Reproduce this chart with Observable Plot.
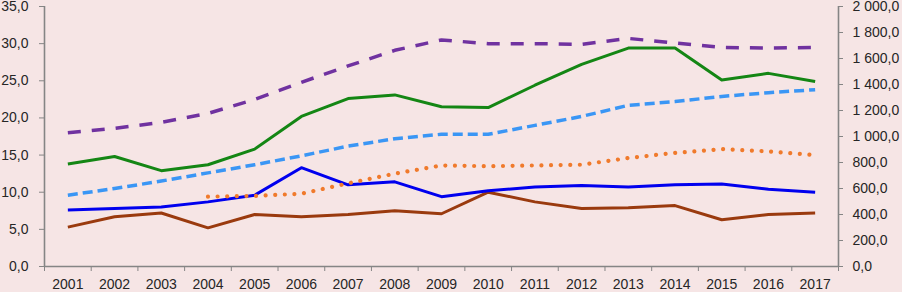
<!DOCTYPE html>
<html>
<head>
<meta charset="utf-8">
<script src="https://cdn.jsdelivr.net/npm/d3@7"></script>
<script src="https://cdn.jsdelivr.net/npm/@observablehq/plot@0.6"></script>
<style>
  html, body { margin: 0; padding: 0; background: #f6e5e5; }
  #chart svg { display: block; }
</style>
</head>
<body>
<div id="chart"></div>
<script>
const years = [2001,2002,2003,2004,2005,2006,2007,2008,2009,2010,2011,2012,2013,2014,2015,2016,2017];
const greenSeries     = [13.8,14.8,12.9,13.7,15.8,20.2,22.6,23.1,21.5,21.4,24.4,27.2,29.4,29.4,25.1,26.0,24.9];
const blueSeries      = [7.6,7.8,8.0,8.7,9.6,13.3,11.0,11.4,9.4,10.2,10.7,10.9,10.7,11.0,11.1,10.4,10.0];
const brownSeries     = [5.3,6.7,7.2,5.2,7.0,6.7,7.0,7.5,7.1,10.0,8.7,7.8,7.9,8.2,6.3,7.0,7.2];
const purpleSeries    = [18.0,18.6,19.4,20.6,22.5,24.8,27.0,29.1,30.5,30.0,30.0,29.9,30.7,30.1,29.5,29.4,29.5];
const lightBlueSeries = [9.6,10.5,11.5,12.6,13.7,14.9,16.2,17.2,17.8,17.8,19.0,20.2,21.7,22.2,22.9,23.4,23.8];
const orangeSeries    = [null,null,null,9.4,9.5,9.8,11.2,12.5,13.6,13.5,13.6,13.7,14.6,15.3,15.8,15.5,15.0];

const leftTicks  = [0,5,10,15,20,25,30,35];
const rightTicks = [0,200,400,600,800,1000,1200,1400,1600,1800,2000];
const leftMax = 35, rightMax = 2000;

const series = [
  {values: brownSeries,     stroke: "#9a3a0e", width: 3,   dash: null},
  {values: blueSeries,      stroke: "#0000ee", width: 3,   dash: null},
  {values: orangeSeries,    stroke: "#f07a2c", width: 4.2, dash: "0.01,9.6", cap: "round"},
  {values: lightBlueSeries, stroke: "#3a96f5", width: 3.5, dash: "10,5"},
  {values: greenSeries,     stroke: "#148614", width: 3,   dash: null},
  {values: purpleSeries,    stroke: "#7032a0", width: 3.5, dash: "13,11"}
];

const loc = d3.formatLocale({decimal: ",", thousands: "\u00a0", grouping: [3]});
const fmt = loc.format(",.1f");

const boundaries = years.map(y => y - 0.5).concat([years[years.length - 1] + 0.5]);
const x0 = boundaries[0], x1 = boundaries[boundaries.length - 1];

const lineMarks = series.map(s => Plot.line(
  years.map((yr, i) => ({year: yr, value: s.values[i]})).filter(d => d.value != null),
  {x: "year", y: "value", stroke: s.stroke, strokeWidth: s.width,
   strokeDasharray: s.dash || undefined, strokeLinecap: s.cap || "butt", strokeLinejoin: "round"}
));

const axisColor = "#858585";
const textColor = "#262626";

const chart = Plot.plot({
  width: 902,
  height: 292,
  marginLeft: 44,
  marginRight: 64,
  marginTop: 6,
  marginBottom: 26,
  style: {background: "#f6e5e5", fontFamily: "'Liberation Sans', Arial, sans-serif", fontSize: "14px"},
  x: {type: "linear", domain: [x0, x1]},
  y: {domain: [0, leftMax]},
  marks: [
    ...lineMarks,
    Plot.ruleX([x0], {stroke: axisColor, strokeWidth: 1.6}),
    Plot.ruleX([x1], {stroke: axisColor, strokeWidth: 1.6}),
    Plot.ruleY([0], {stroke: axisColor, strokeWidth: 1.6}),
    Plot.axisY({anchor: "left", ticks: leftTicks, tickFormat: fmt, tickSize: 5, tickPadding: 11,
      stroke: axisColor, fill: textColor, label: null}),
    Plot.axisY({anchor: "right", ticks: rightTicks.map(v => v * leftMax / rightMax),
      tickFormat: d => fmt(Math.round(d * rightMax / leftMax)), tickSize: 4, tickPadding: 10,
      stroke: axisColor, fill: textColor, label: null}),
    Plot.axisX({anchor: "bottom", ticks: boundaries, tickFormat: () => "", tickSize: 5,
      stroke: axisColor, label: null}),
    Plot.axisX({anchor: "bottom", ticks: years, tickFormat: d => String(d), tickSize: 0, tickPadding: 13,
      fill: textColor, label: null})
  ]
});

document.getElementById("chart").appendChild(chart);
</script>
</body>
</html>
